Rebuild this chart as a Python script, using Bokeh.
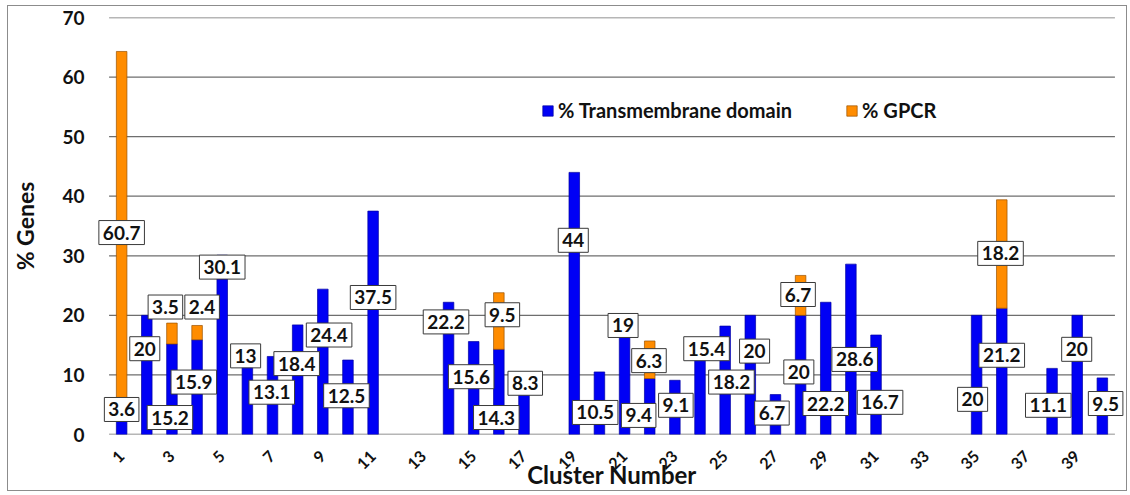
import math
from bokeh.plotting import figure
from bokeh.models import ColumnDataSource, FixedTicker, Legend, LegendItem, Label
from bokeh.embed import file_html
from bokeh.resources import INLINE

# ---- data ----
clusters = list(range(1, 41))
tm_pct = [3.6, 20, 15.2, 15.9, 30.1, 13, 13.1, 18.4, 24.4, 12.5,
          37.5, 0, 0, 22.2, 15.6, 14.3, 8.3, 0, 44, 10.5,
          19, 9.4, 9.1, 15.4, 18.2, 20, 6.7, 20, 22.2, 28.6,
          16.7, 0, 0, 0, 20, 21.2, 0, 11.1, 20, 9.5]
gpcr_pct = [60.7, 0, 3.5, 2.4, 0, 0, 0, 0, 0, 0,
            0, 0, 0, 0, 0, 9.5, 0, 0, 0, 0,
            0, 6.3, 0, 0, 0, 0, 0, 6.7, 0, 0,
            0, 0, 0, 0, 0, 18.2, 0, 0, 0, 0]
x_ticks = list(range(1, 40, 2))
y_ticks = [0, 10, 20, 30, 40, 50, 60, 70]
series_names = ["% Transmembrane domain", "% GPCR"]

# ---- label placement (shift from bar centre in categories, height in % units) ----
tm_label_dx = [0.0, -0.08, -0.08, -0.13, 0.0, -0.07, -0.03, -0.04, 0.25, -0.06,
               0.0, 0, 0, -0.1, -0.1, -0.1, 0.05, 0, -0.04, -0.17,
               -0.06, -0.44, 0.04, 0.26, 0.25, 0.17, -0.14, -0.07, 0.0, 0.15,
               0.16, 0, 0, 0, -0.16, 0.0, 0, -0.15, -0.02, 0.13]
tm_label_y = [4.2, 14.4, 2.85, 8.8, 28.1, 13.2, 7.1, 11.9, 16.7, 6.5,
              23.0, 0, 0, 18.9, 9.7, 2.85, 8.6, 0, 32.6, 3.7,
              18.3, 3.2, 4.9, 14.4, 8.8, 14.0, 3.6, 10.5, 5.2, 12.6,
              5.4, 0, 0, 0, 5.9, 13.3, 0, 4.9, 14.3, 5.2]
gpcr_label_dx = [0.0, 0, -0.26, 0.2, 0, 0, 0, 0, 0, 0,
                 0, 0, 0, 0, 0, 0.14, 0, 0, 0, 0,
                 0, -0.03, 0, 0, 0, 0, 0, -0.1, 0, 0,
                 0, 0, 0, 0, 0, -0.05, 0, 0, 0, 0]
gpcr_label_y = [33.9, 0, 21.4, 21.4, 0, 0, 0, 0, 0, 0,
                0, 0, 0, 0, 0, 20.1, 0, 0, 0, 0,
                0, 12.4, 0, 0, 0, 0, 0, 23.5, 0, 0,
                0, 0, 0, 0, 0, 30.4, 0, 0, 0, 0]

def fmt(v):
    return ("%g" % v)

FONT = "Lato"
X_LO, X_HI = 0.5, 40.5          # extent of the category axis / gridlines

# blue segments (non-zero only)
tm_src = ColumnDataSource(dict(
    x=[c for c, t in zip(clusters, tm_pct) if t > 0],
    top=[t for t in tm_pct if t > 0]))
# orange segments stacked on blue (non-zero only)
gp_src = ColumnDataSource(dict(
    x=[c for c, g in zip(clusters, gpcr_pct) if g > 0],
    bottom=[t for t, g in zip(tm_pct, gpcr_pct) if g > 0],
    top=[t + g for t, g in zip(tm_pct, gpcr_pct) if g > 0]))

# frame slightly wider than the category span so boxed labels can overhang the ends
p = figure(width=1120, height=486, output_backend="svg", toolbar_location=None,
           x_range=(X_LO - 0.5, X_HI + 0.5), y_range=(0, 70),
           min_border_left=87, min_border_right=1, min_border_top=11, min_border_bottom=57,
           background_fill_color="white", border_fill_color="white")
p.styles = {"border": "1px solid #8c8c8c", "margin-left": "7px", "margin-top": "5px"}
p.outline_line_color = None

# horizontal gridlines (incl. the zero line) spanning only the category extent
p.segment(x0=[X_LO] * len(y_ticks), x1=[X_HI] * len(y_ticks), y0=y_ticks, y1=y_ticks,
          line_color="#6e6e6e", line_width=1.3)

r_tm = p.vbar(x="x", top="top", bottom=0, width=0.42, source=tm_src,
              fill_color="#0000F5", line_color="#0000A0", line_width=0.7)
r_gp = p.vbar(x="x", top="top", bottom="bottom", width=0.42, source=gp_src,
              fill_color="#FF8C00", line_color="#9A5200", line_width=0.7)

# value labels
def add_label(xv, yv, txt):
    p.add_layout(Label(x=xv, y=yv, text=txt, text_align="center", text_baseline="middle",
                       text_font=FONT, text_font_style="bold", text_font_size="19px",
                       text_color="#111111", background_fill_color="white",
                       border_line_color="#3a3a3a", border_line_width=1,
                       padding=dict(x=4, y=5)))

for i, c in enumerate(clusters):
    if tm_pct[i] > 0:
        add_label(c + tm_label_dx[i], tm_label_y[i], fmt(tm_pct[i]))
    if gpcr_pct[i] > 0:
        add_label(c + gpcr_label_dx[i], gpcr_label_y[i], fmt(gpcr_pct[i]))

# axes
p.xgrid.grid_line_color = None
p.ygrid.grid_line_color = None
p.yaxis.ticker = FixedTicker(ticks=y_ticks)
p.xaxis.ticker = FixedTicker(ticks=x_ticks)

for ax in (p.xaxis[0], p.yaxis[0]):
    ax.axis_line_color = None
    ax.major_tick_line_color = None
    ax.minor_tick_line_color = None
    ax.major_label_text_font = FONT
    ax.major_label_text_font_style = "bold"
    ax.axis_label_text_font = FONT
    ax.axis_label_text_font_style = "bold"
    ax.major_label_text_color = "#111111"
    ax.axis_label_text_color = "#111111"

p.yaxis.major_label_text_font_size = "19px"
p.yaxis.major_label_standoff = 6
p.yaxis.axis_label = "% Genes"
p.yaxis.axis_label_text_font_size = "23px"
p.yaxis.axis_label_standoff = 20

p.xaxis.major_label_text_font_size = "16px"
p.xaxis.major_label_orientation = math.pi / 4
p.xaxis.major_label_standoff = 13
p.xaxis.axis_label = "Cluster Number"
p.xaxis.axis_label_text_font_size = "24px"
p.xaxis.axis_label_standoff = -17

legend = Legend(items=[LegendItem(label=series_names[0], renderers=[r_tm]),
                       LegendItem(label=series_names[1], renderers=[r_gp])],
                orientation="horizontal", location=(445, 312),
                background_fill_alpha=0, border_line_color=None,
                label_text_font=FONT, label_text_font_style="bold", label_text_font_size="20px",
                label_text_color="#111111",
                glyph_width=13, glyph_height=13, spacing=53, padding=0, margin=0,
                label_standoff=4)
p.add_layout(legend)

open("out.html", "w").write(file_html(p, INLINE))
